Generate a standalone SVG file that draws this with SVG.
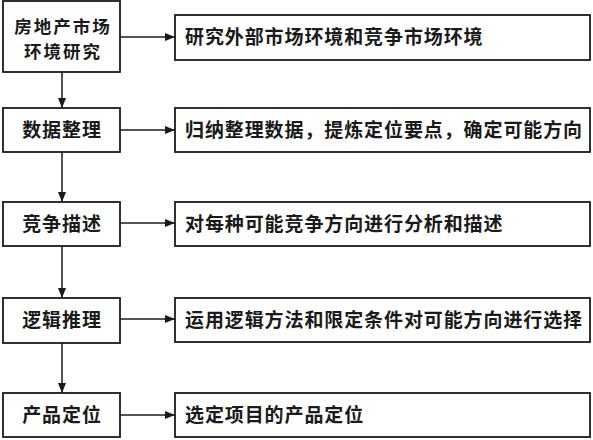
<svg xmlns="http://www.w3.org/2000/svg" width="593" height="440" viewBox="0 0 593 440">
<defs>
<style>
.box{fill:#fff;stroke:#1a1a1a;stroke-width:1.8}
.t{font-family:"Noto Sans CJK SC","Noto Sans CJK TC",sans-serif;font-size:19px;font-weight:700;fill:#1a1a1a;letter-spacing:0.9px}
.s{font-size:17.5px;letter-spacing:2px}
.c{text-anchor:middle}
.ln{stroke:#1a1a1a;stroke-width:1.5;fill:none}
</style>
<marker id="ah" viewBox="0 0 10 10" refX="10" refY="5" markerWidth="10" markerHeight="10" markerUnits="userSpaceOnUse" orient="auto">
<path d="M0,1 L10,5 L0,9 z" fill="#1a1a1a"/>
</marker>
</defs>
<rect width="593" height="440" fill="#fff"/>
<g id="connectors">
<line class="ln" x1="120" y1="37" x2="175" y2="37" marker-end="url(#ah)"/>
<line class="ln" x1="120" y1="130" x2="175" y2="130" marker-end="url(#ah)"/>
<line class="ln" x1="120" y1="223" x2="175" y2="223" marker-end="url(#ah)"/>
<line class="ln" x1="120" y1="319" x2="175" y2="319" marker-end="url(#ah)"/>
<line class="ln" x1="120" y1="415" x2="175" y2="415" marker-end="url(#ah)"/>
<line class="ln" x1="62" y1="72" x2="62" y2="108" marker-end="url(#ah)"/>
<line class="ln" x1="62" y1="152" x2="62" y2="202" marker-end="url(#ah)"/>
<line class="ln" x1="62" y1="246" x2="62" y2="298" marker-end="url(#ah)"/>
<line class="ln" x1="62" y1="343" x2="62" y2="393" marker-end="url(#ah)"/>
</g>
<g id="n1"><rect class="box" x="3" y="1" width="117" height="71"/><text class="t s c" x="63" y="32.5">房地产市场</text><text class="t s c" x="63" y="58">环境研究</text></g>
<g id="n2"><rect class="box" x="3" y="108" width="117" height="44"/><text class="t c" x="62" y="137">数据整理</text></g>
<g id="n3"><rect class="box" x="3" y="202" width="117" height="44"/><text class="t c" x="62" y="231">竞争描述</text></g>
<g id="n4"><rect class="box" x="3" y="298" width="117" height="45"/><text class="t c" x="62" y="327">逻辑推理</text></g>
<g id="n5"><rect class="box" x="3" y="393" width="117" height="44"/><text class="t c" x="62" y="422">产品定位</text></g>
<g id="r1"><rect class="box" x="175" y="15" width="415" height="45"/><text class="t" x="185" y="44">研究外部市场环境和竞争市场环境</text></g>
<g id="r2"><rect class="box" x="175" y="108" width="415" height="44"/><text class="t" x="185" y="137">归纳整理数据，提炼定位要点，确定可能方向</text></g>
<g id="r3"><rect class="box" x="175" y="202" width="415" height="44"/><text class="t" x="185" y="231">对每种可能竞争方向进行分析和描述</text></g>
<g id="r4"><rect class="box" x="175" y="298" width="415" height="44"/><text class="t" x="185" y="327">运用逻辑方法和限定条件对可能方向进行选择</text></g>
<g id="r5"><rect class="box" x="175" y="393" width="415" height="44"/><text class="t" x="185" y="422">选定项目的产品定位</text></g>
</svg>
